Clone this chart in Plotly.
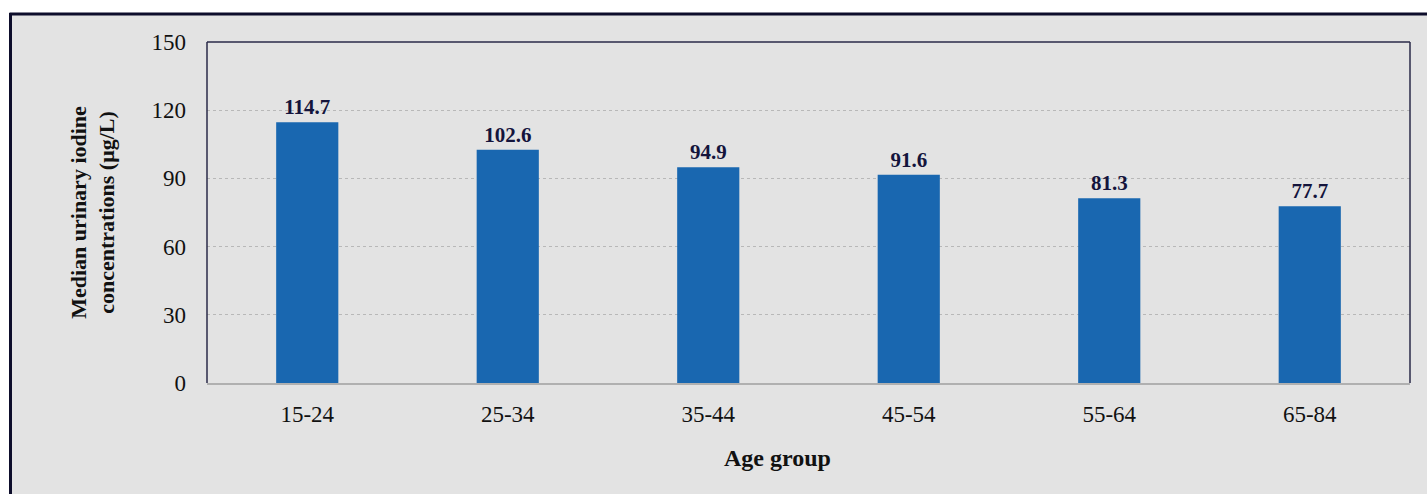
import plotly.graph_objects as go

categories = ["15-24", "25-34", "35-44", "45-54", "55-64", "65-84"]
values = [114.7, 102.6, 94.9, 91.6, 81.3, 77.7]
labels = ["114.7", "102.6", "94.9", "91.6", "81.3", "77.7"]
y_ticks = [0, 30, 60, 90, 120, 150]

W, H = 1427, 494
L, R, T, B = 207, 17, 42, 111
pw, ph = W - L - R, H - T - B

def px(x):
    return (x - L) / pw

def py(y):
    return (H - B - y) / ph

font_family = "Liberation Serif, Times New Roman, serif"

fig = go.Figure(go.Bar(
    x=categories, y=values, text=labels, textposition="outside",
    textfont=dict(family=font_family, size=21, color="#14143c", weight="bold"),
    marker=dict(color="#1967B0", line=dict(width=0)),
    width=0.31, cliponaxis=False,
))

shapes = [
    dict(type="rect", xref="paper", yref="paper", x0=px(0), x1=px(W), y0=py(13), y1=py(-5),
         fillcolor="white", line=dict(width=0), layer="below"),
    dict(type="rect", xref="paper", yref="paper", x0=px(-5), x1=px(10), y0=py(H + 5), y1=py(-5),
         fillcolor="white", line=dict(width=0), layer="below"),
    dict(type="line", xref="paper", yref="paper", x0=px(9.5), x1=px(W + 5), y0=py(14), y1=py(14),
         line=dict(color="#0d0d2b", width=3)),
    dict(type="line", xref="paper", yref="paper", x0=px(10.5), x1=px(10.5), y0=py(13), y1=py(H + 5),
         line=dict(color="#0d0d2b", width=3)),
    dict(type="line", xref="paper", yref="paper", x0=0, x1=0, y0=0, y1=1,
         line=dict(color="#2a2a48", width=1.5)),
    dict(type="line", xref="paper", yref="paper", x0=0, x1=1, y0=1, y1=1,
         line=dict(color="#2a2a48", width=1.5)),
    dict(type="line", xref="paper", yref="paper", x0=1, x1=1, y0=0, y1=1,
         line=dict(color="#2a2a48", width=1.5)),
]

annotations = [
    dict(text="<b>Age group</b>", xref="paper", yref="paper", x=px(777), y=py(458),
         xanchor="center", yanchor="middle", showarrow=False,
         font=dict(family=font_family, size=24, color="#111111")),
]

fig.update_layout(
    width=W, height=H,
    margin=dict(l=L, r=R, t=T, b=B, pad=0),
    paper_bgcolor="#E3E3E3", plot_bgcolor="#E3E3E3",
    showlegend=False, shapes=shapes, annotations=annotations,
    font=dict(family=font_family, color="#111111"),
    xaxis=dict(
        tickfont=dict(size=23, color="#111111"),
        showline=True, linecolor="#b0b0b0", linewidth=1.5,
        ticks="", ticklabelstandoff=10, showgrid=False,
    ),
    yaxis=dict(
        title=dict(text="<b>Median urinary iodine<br>concentrations (μg/L)</b>",
                   font=dict(size=22, color="#111111"), standoff=30),
        range=[0, 150], tickvals=y_ticks, ticktext=[str(v) for v in y_ticks],
        tickfont=dict(size=23, color="#111111"),
        showgrid=True, gridcolor="#b8b8b8", gridwidth=1, griddash="dot",
        zeroline=False, showline=False, ticks="", ticklabelstandoff=20,
    ),
)

fig.write_html("out.html")
